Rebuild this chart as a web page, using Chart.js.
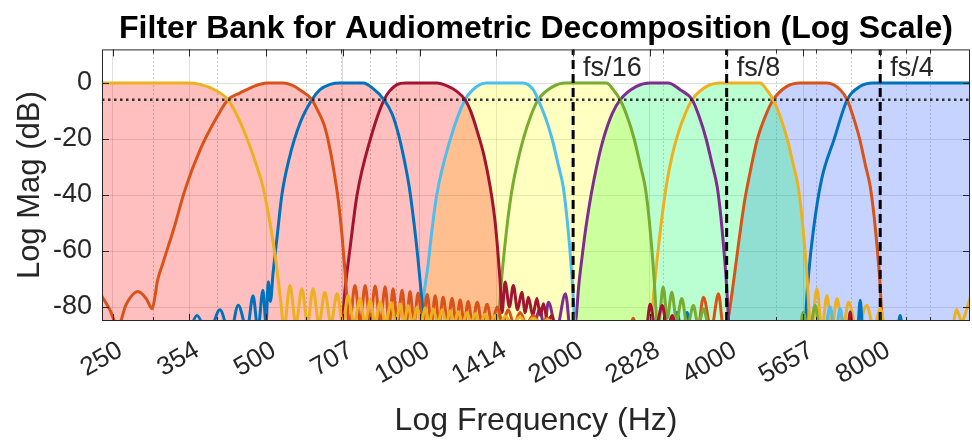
<!DOCTYPE html>
<html>
<head>
<meta charset="utf-8">
<title>Filter Bank for Audiometric Decomposition</title>
<script src="https://cdn.jsdelivr.net/npm/chart.js@4.4.1/dist/chart.umd.min.js"></script>
<style>
  html, body { margin: 0; padding: 0; background: #fff; }
  #wrap { width: 972px; height: 445px; }
</style>
</head>
<body>
<div id="wrap"><canvas id="bankChart"></canvas></div>
<script>
// axis limits
const xLimits = [238.4, 12000];   // Hz
const yLimits = [-85, 12];        // dB

// log-frequency ticks (half octave) and their labels
const xTicks = [250, 353.55, 500, 707.11, 1000, 1414.2, 2000, 2828.4, 4000, 5656.9, 8000];
const xTickLabels = ['250', '354', '500', '707', '1000', '1414', '2000', '2828', '4000', '5657', '8000'];
const xMinorTicks = [300, 400, 600, 700, 800, 900, 3000, 5000, 6000, 7000, 9000, 10000];
const yTicks = [-80, -60, -40, -20, 0];

// decimation markers + the -6 dB crossover level
const markerHz = [2000, 4000, 8000];
const markerLabels = ['fs/16', 'fs/8', 'fs/4'];
const crossoverDb = -6;

// magnitude responses, [Hz, dB]
const band1 = [[238,0],[350,0],[371,-0.5],[397,-2.5],[421,-6],[437,-11],[457,-19],[476,-28],[493,-37],[509,-50],[523,-64],[535,-79],[542,-88],
  [557,-72.3],[572,-86],[588,-73.5],[603,-86],[618,-73.5],[635,-86],[652,-74.7],[670,-86],[689,-75.3],[707,-86],[724,-76],[744,-86],[764,-77],[782,-86],[800,-77.6],[818,-86],[837,-78.2],[858,-86],[879,-78.5],[898,-86],[916,-79],[932,-86],[949,-79.5],[969,-86],[989,-80],[1007,-86],[1025,-80.3],[1044,-86],[1063,-80.6],[1085,-86],[1107,-81],[1128,-86],[1148,-81.3],[1169,-86],[1190,-81.6],[1214,-86],[1239,-82],[1262,-86],[1285,-82.3],[1314,-86],[1344,-82.6],[1375,-86],[1406,-83],[1438,-86],[1471,-83.3],[1520,-86],[1574,-83.6],[1620,-86],[1670,-84],[1730,-86],[1786,-84.5],[1840,-88],[12000,-95]];
const band2 = [[238,-76],[247,-81],[256,-87],[266,-79],[280.5,-74.5],[291,-77],[299,-80.6],[303,-76],[306,-71],[313,-65],[329,-52.6],[347,-38],[371,-24],[401,-12],[421,-6],[445,-3.5],[476,-1],[502,0],[540,0],[562,-0.8],[583,-2.5],[615,-6],[632,-10],[650,-15],[664.5,-22],[680,-32],[694,-43],[705,-55],[714,-67],[722.5,-80],[727,-88],
  [747,-72.3],[765,-86],[782,-72.3],[800,-86],[818,-72.5],[837,-86],[856,-72.8],[872,-86],[887,-73.5],[905,-86],[924,-74],[941,-86],[958,-74.5],[975,-86],[993,-75],[1014,-86],[1035,-75.5],[1054,-86],[1073,-76],[1092,-86],[1112,-76.5],[1135,-86],[1158,-77],[1180,-86],[1201,-77.5],[1223,-86],[1245,-78],[1270,-86],[1297,-78.3],[1326,-86],[1356,-79],[1387,-86],[1419,-80],[1455,-86],[1491,-81],[1532,-86],[1574,-82],[1620,-86],[1670,-83],[1725,-86],[1778,-84],[1830,-88],[12000,-95]];
const band3 = [[238,-95],[350,-90],[366,-83],[385,-90],[406,-81],[425,-90],[441,-79.4],[459,-88],[471.5,-76],[482,-88],[493,-74],[500,-86],[505,-71],[510,-78],[516,-68],[525.5,-55],[537,-40],[555,-27],[583,-14.3],[615,-6],[638,-2.4],[668,-0.5],[698,0],[775,0],[811,-2],[852,-6],[883,-11],[908,-18],[932,-27],[954,-37],[975,-50],[993,-63],[1011,-78],[1025,-90],
  [7200,-92],[7310,-77.6],[7420,-92],[8600,-92],[8754,-83],[8900,-92],[12000,-95]];
const band4 = [[238,-95],[680,-95],[705,-86],[714,-74],[731,-58.6],[754,-40],[800,-20.3],[852,-6],[903,-0.6],[940,0],[1082,0],[1132,-1],[1179,-2.8],[1228,-6],[1262,-10.5],[1296,-17],[1338,-26],[1375,-37],[1403,-48],[1422,-59],[1438,-70.5],[1451,-82],
  [1471,-71.1],[1500,-80],[1527,-72.3],[1556,-81],[1586,-74.7],[1611,-82],[1634,-76.5],[1667,-83],[1698,-77],[1725,-83],[1749,-78.8],[1782,-85],[1817,-83],[1850,-88],[2780,-88],[2832,-79],[2900,-88],[2990,-79.5],[3060,-88],[3127,-83],[3200,-90],[6900,-90],[6987,-81.8],[7080,-90],[12000,-95]];
const band5 = [[238,-95],[980,-92],[1005,-84],[1022,-74],[1039,-65],[1048,-58.6],[1079,-40.6],[1148,-20.3],[1228,-6],[1296,-1.2],[1350,0],[1595,0],[1670,-2.4],[1708,-6],[1762,-12],[1819,-20],[1869,-29],[1912,-37],[1942,-47],[1969,-58.6],[1991,-70],[2009,-82],[2023,-90],
  [6200,-90],[6384,-80],[6530,-90],[6678,-80.6],[6820,-90],[12000,-95]];
const band6 = [[238,-95],[1400,-95],[1422,-90],[1432,-82],[1448,-70],[1468,-59],[1491,-48],[1518,-38],[1557,-28],[1603,-19],[1654,-11.5],[1708,-6],[1829,-1.2],[1930,0],[2324,0],[2398,-2.4],[2473,-6],[2553,-12],[2635,-20],[2706,-29],[2768,-37],[2813,-47],[2851,-58.6],[2883,-70],[2909,-82],[2929,-90],
  [3003,-72.9],[3060,-84],[3123,-74.7],[3190,-85],[3267,-77],[3350,-87],[3442,-79.5],[3520,-87],[3602,-80.6],[3700,-88],[5550,-90],[5650,-82],[5800,-90],[5966,-79.5],[6100,-90],[12000,-95]];
const band7 = [[238,-95],[1650,-92],[1723,-80.6],[1755,-88],[1789,-78.3],[1855,-88],[1932,-75.3],[1985,-92],[2027,-84],[2050,-73],[2083,-62],[2121,-51],[2169,-40],[2229,-29],[2301,-19],[2385,-11],[2473,-6],[2662,-1.2],[2832,0],[3068,0],[3242,-2.4],[3423,-6],[3533,-12],[3646,-20],[3746,-29],[3832,-37],[3893,-47],[3946,-58.6],[3991,-70],[4027,-82],[4054,-90],[12000,-95]];
const band8 = [[238,-95],[2832,-92],[2857,-82],[2896,-70],[2943,-58],[2996,-46],[3057,-35],[3127,-26],[3213,-18],[3317,-11],[3423,-6],[3655,-1.2],[3900,0],[4653,0],[4792,-2.4],[4935,-6],[5093,-12],[5257,-20],[5401,-29],[5524,-37],[5612,-47],[5689,-58.6],[5754,-70],[5805,-82],[5845,-90],
  [6011,-73.5],[6150,-88],[6289,-75.9],[6430,-88],[6580,-77],[6760,-88],[6934,-78.3],[7200,-88],[7534,-79.5],[7780,-88],[8000,-80.6],[8200,-88],[11000,-90],[11300,-81],[11550,-85],[12000,-77]];
const band9 = [[238,-95],[2560,-92],[2623,-84],[2690,-92],[3500,-90],[3602,-76.5],[3730,-88],[3855,-75.3],[3946,-88],[4027,-84],[4119,-72],[4223,-57],[4339,-42],[4468,-30],[4591,-20.3],[4760,-12],[4935,-6],[5250,-1.2],[5575,0],[6290,0],[6678,-2.4],[6893,-6],[7081,-12],[7293,-20],[7476,-29],[7648,-37],[7787,-48],[7893,-59],[7982,-70],[8055,-82],[8109,-90],[12000,-95]];
const band10 = [[238,-95],[3100,-92],[3199,-82],[3270,-90],[3346,-82],[3420,-92],[5700,-92],[5730,-80],[5784,-69.3],[5917,-52.6],[6136,-34.7],[6492,-20.3],[6893,-6],[7310,-1.2],[7742,0],[12000,0]];

const bands = [band1, band2, band3, band4, band5, band6, band7, band8, band9, band10];
const bandColors = ['#EDB120', '#D95319', '#0072BD', '#A2142F', '#4DBEEE', '#77AC30', '#7E2F8E', '#EDB120', '#D95319', '#0072BD'];

// shaded octave groups (indexes into bands)
const groups = [[0, 1, 2, 3], [4, 5], [6, 7], [8, 9]];
const groupColors = ['rgba(255,0,0,0.25)', 'rgba(255,255,0,0.25)', 'rgba(0,255,90,0.27)', 'rgba(30,80,255,0.25)'];

const FONT = '"Liberation Sans", Arial, Helvetica, sans-serif';
const AXIS_COLOR = '#262626';

function toPoints(pairs) {
  return pairs.map(p => ({ x: p[0], y: p[1] }));
}

// passband lobe: walk out from the peak until the response drops under -80 dB
function mainLobe(pairs) {
  let peak = 0;
  pairs.forEach((p, i) => { if (p[1] > pairs[peak][1]) peak = i; });
  let lo = peak, hi = peak;
  while (lo > 0 && pairs[lo][1] > -80) lo--;
  while (hi < pairs.length - 1 && pairs[hi][1] > -80) hi++;
  return pairs.slice(lo, hi + 1);
}

function levelAt(lobe, hz) {
  if (hz < lobe[0][0] || hz > lobe[lobe.length - 1][0]) return -Infinity;
  for (let i = 1; i < lobe.length; i++) {
    if (hz <= lobe[i][0]) {
      const [x0, y0] = lobe[i - 1];
      const [x1, y1] = lobe[i];
      const t = Math.log(hz / x0) / Math.log(x1 / x0);
      return y0 + t * (y1 - y0);
    }
  }
  return lobe[lobe.length - 1][1];
}

// upper envelope of the group's lobes -> outline for the shaded area
function envelope(idx) {
  const lobes = idx.map(i => mainLobe(bands[i]));
  const out = [];
  lobes.forEach((lobe, k) => lobe.forEach(p => {
    const onTop = lobes.every((other, j) => j === k || p[1] >= levelAt(other, p[0]) - 1e-9);
    if (onTop && !out.some(q => q[0] === p[0])) out.push(p);
  }));
  return out.sort((a, b) => a[0] - b[0]);
}

const datasets = [];

// first in the list = painted last
markerHz.forEach(hz => {
  datasets.push({
    data: [{ x: hz, y: yLimits[0] }, { x: hz, y: yLimits[1] }],
    borderColor: '#000', borderWidth: 3, borderDash: [9, 5], fill: false
  });
});
datasets.push({
  data: [{ x: xLimits[0], y: crossoverDb }, { x: xLimits[1], y: crossoverDb }],
  borderColor: 'rgba(30,30,30,0.9)', borderWidth: 2.5, borderDash: [2.5, 3.5], fill: false
});
bands.forEach((b, i) => {
  datasets.push({
    data: toPoints(b), borderColor: bandColors[i], borderWidth: 3, fill: false,
    cubicInterpolationMode: 'monotone'
  });
});
groups.forEach((g, i) => {
  datasets.push({
    data: toPoints(envelope(g)),
    borderColor: 'rgba(0,0,0,0)', borderWidth: 0,
    backgroundColor: groupColors[i], fill: 'start',
    cubicInterpolationMode: 'monotone'
  });
});
datasets.forEach(d => { d.pointRadius = 0; d.clip = 0; });

const bankDecor = {
  id: 'bankDecor',
  beforeDatasetsDraw(chart) {
    const { ctx, chartArea: a, scales: { x } } = chart;
    ctx.save();
    ctx.strokeStyle = 'rgba(38,38,38,0.3)';
    ctx.lineWidth = 1;
    ctx.setLineDash([1.5, 2.5]);
    xMinorTicks.forEach(hz => {
      const px = Math.round(x.getPixelForValue(hz)) + 0.5;
      ctx.beginPath();
      ctx.moveTo(px, a.top);
      ctx.lineTo(px, a.bottom);
      ctx.stroke();
    });
    ctx.restore();
  },
  afterDatasetsDraw(chart) {
    const { ctx, chartArea: a, scales: { x, y } } = chart;
    ctx.save();
    ctx.strokeStyle = AXIS_COLOR;
    ctx.lineWidth = 1;
    ctx.beginPath();
    xTicks.forEach(hz => {
      const px = Math.round(x.getPixelForValue(hz)) + 0.5;
      ctx.moveTo(px, a.bottom); ctx.lineTo(px, a.bottom - 7);
      ctx.moveTo(px, a.top); ctx.lineTo(px, a.top + 7);
    });
    xMinorTicks.forEach(hz => {
      const px = Math.round(x.getPixelForValue(hz)) + 0.5;
      ctx.moveTo(px, a.bottom); ctx.lineTo(px, a.bottom - 4);
      ctx.moveTo(px, a.top); ctx.lineTo(px, a.top + 4);
    });
    yTicks.forEach(v => {
      const py = Math.round(y.getPixelForValue(v)) + 0.5;
      ctx.moveTo(a.left, py); ctx.lineTo(a.left + 7, py);
      ctx.moveTo(a.right, py); ctx.lineTo(a.right - 7, py);
    });
    ctx.stroke();
    ctx.strokeRect(a.left + 0.5, a.top + 0.5, a.right - a.left - 1, a.bottom - a.top - 1);

    ctx.fillStyle = AXIS_COLOR;
    ctx.font = '27px ' + FONT;
    ctx.textBaseline = 'middle';
    ctx.textAlign = 'left';
    markerHz.forEach((hz, i) => {
      ctx.fillText(markerLabels[i], x.getPixelForValue(hz) + 10, a.top + 19);
    });
    ctx.restore();
  }
};

new Chart(document.getElementById('bankChart'), {
  type: 'line',
  data: { datasets },
  plugins: [bankDecor],
  options: {
    responsive: true,
    maintainAspectRatio: false,
    animation: false,
    events: [],
    layout: { padding: { top: 0, right: 2, bottom: 0, left: 0 } },
    plugins: {
      legend: { display: false },
      tooltip: { enabled: false },
      title: {
        display: true,
        fullSize: false,
        text: 'Filter Bank for Audiometric Decomposition (Log Scale)',
        color: '#000',
        font: { family: FONT, size: 32, weight: 'bold' },
        padding: { top: 10, bottom: 1 }
      }
    },
    scales: {
      x: {
        type: 'logarithmic',
        min: xLimits[0],
        max: xLimits[1],
        afterBuildTicks: s => { s.ticks = xTicks.map(v => ({ value: v })); },
        afterFit: s => { s.height = 124; },
        grid: { color: 'rgba(38,38,38,0.15)', lineWidth: 1, drawTicks: false },
        border: { display: false },
        ticks: {
          autoSkip: false, minRotation: 30, maxRotation: 30,
          padding: 14, labelOffset: 8,
          color: AXIS_COLOR, font: { family: FONT, size: 26 },
          callback: (v, i) => xTickLabels[i]
        },
        title: {
          display: true, text: 'Log Frequency (Hz)', color: AXIS_COLOR,
          font: { family: FONT, size: 32 }, padding: { top: 0, bottom: 5 }
        }
      },
      y: {
        type: 'linear',
        min: yLimits[0],
        max: yLimits[1],
        afterBuildTicks: s => { s.ticks = yTicks.map(v => ({ value: v })); },
        afterFit: s => { s.width = 102; },
        grid: { color: 'rgba(38,38,38,0.15)', lineWidth: 1, drawTicks: false },
        border: { display: false },
        ticks: {
          padding: 10, color: AXIS_COLOR, font: { family: FONT, size: 27 },
          callback: v => String(v)
        },
        title: {
          display: true, text: 'Log Mag (dB)', color: AXIS_COLOR,
          font: { family: FONT, size: 31 }, padding: { top: 12, bottom: 0 }
        }
      }
    }
  }
});
</script>
</body>
</html>
